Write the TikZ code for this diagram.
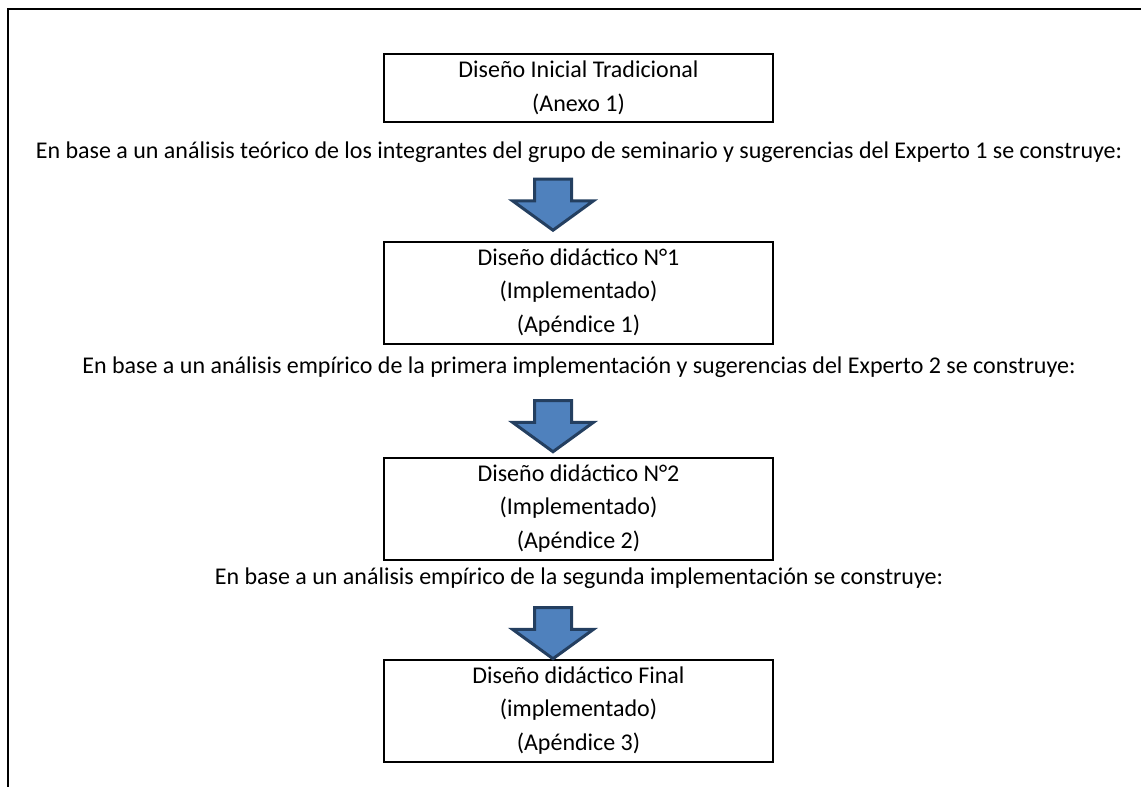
\documentclass[tikz,border=0pt]{standalone}
\usepackage{fontspec}
\setmainfont{Carlito}
\usetikzlibrary{shapes.arrows}
\definecolor{arrowfill}{HTML}{4F81BD}
\definecolor{arrowline}{HTML}{243F60}
\begin{document}
\begin{tikzpicture}[x=1pt,y=-1pt,line width=2pt,
box node/.style = {draw, align=center, inner sep=0pt, minimum width=389pt, minimum height=102pt, font=\fontsize{24}{33.5}\selectfont},
note node/.style = {inner sep=0pt, font=\fontsize{24}{33.5}\selectfont},
arrow node/.style = {single arrow, rotate=-90, draw=arrowline, fill=arrowfill, line width=3pt, inner xsep=0pt, inner ysep=17pt, minimum height=51pt, single arrow head extend=22pt, single arrow tip angle=108}]
\useasboundingbox (0,0) rectangle (1141,787);
\draw (1141,9) -- (7.5,9) -- (7.5,787);
\node[box node,minimum height=68pt] at (578.5,88) (1) {Diseño Inicial Tradicional\\(Anexo 1)};
\node[box node] at (578.5,292.5) (2) {Diseño didáctico N°1\\(Implementado)\\(Apéndice 1)};
\node[box node] at (578.5,508.5) (3) {Diseño didáctico N°2\\(Implementado)\\(Apéndice 2)};
\node[box node] at (578.5,710.5) (4) {Diseño didáctico Final\\(implementado)\\(Apéndice 3)};
\node[note node] at (579,152) (5) {En base a un análisis teórico de los integrantes del grupo de seminario y sugerencias del Experto 1 se construye:};
\node[note node] at (579,367) (6) {En base a un análisis empírico de la primera implementación y sugerencias del Experto 2 se construye:};
\node[note node] at (579,578) (7) {En base a un análisis empírico de la segunda implementación se construye:};
\node[arrow node] at (553,198) (8) {};
\node[arrow node] at (553,419.5) (9) {};
\node[arrow node] at (553,626.5) (10) {};
\end{tikzpicture}
\end{document}
